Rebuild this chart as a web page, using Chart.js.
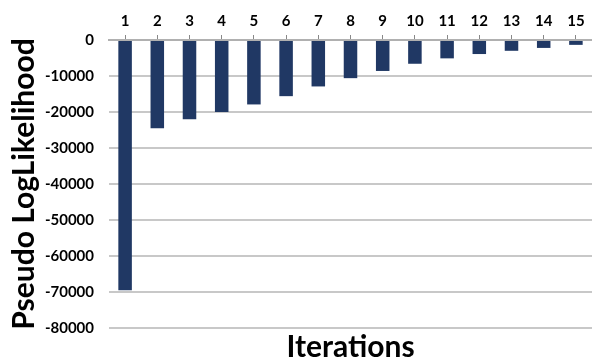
<!DOCTYPE html>
<html>
<head>
<meta charset="utf-8">
<script src="https://cdn.jsdelivr.net/npm/chart.js@4.4.0/dist/chart.umd.min.js"></script>
<style>
  html, body { margin: 0; padding: 0; background: #fff; }
  #wrap { width: 592px; height: 362px; }
</style>
</head>
<body>
<div id="wrap"><canvas id="myChart" width="592" height="362"></canvas></div>
<script>
// iterations and pseudo log-likelihood
const iterations = ["1", "2", "3", "4", "5", "6", "7", "8", "9", "10", "11", "12", "13", "14", "15"];
const logLik = [-69500, -24500, -22000, -20000, -17900, -15600, -12900, -10600, -8600, -6600, -5100, -3900, -3000, -2200, -1350];
const yTicks = [0, -10000, -20000, -30000, -40000, -50000, -60000, -70000, -80000];

const ctx = document.getElementById('myChart').getContext('2d');
new Chart(ctx, {
    type: 'bar',
    data: {
        labels: iterations,
        datasets: [{
            data: logLik,
            backgroundColor: '#203864',
            borderWidth: 0,
            barPercentage: 0.42,
            categoryPercentage: 1
        }]
    },
    options: {
        responsive: false,
        animation: false,
        layout: { padding: { left: 9, right: 0, top: 7, bottom: 0 } },
        plugins: {
            legend: { display: false },
            tooltip: { enabled: false },
            title: {
                display: true,
                position: 'bottom',
                fullSize: false,
                text: 'Iterations',
                color: '#000',
                font: { family: 'Lato', size: 30, weight: 'bold', lineHeight: 1 },
                padding: { top: 4, bottom: 0 }
            }
        },
        scales: {
            x: {
                position: 'top',
                grid: {
                    offset: false,
                    drawOnChartArea: false,
                    color: '#888',
                    tickLength: 5
                },
                border: { color: '#b0b0b0', width: 2 },
                ticks: {
                    color: '#000',
                    font: { family: 'Lato', size: 15, weight: 'bold' },
                    padding: 5,
                    maxRotation: 0
                }
            },
            y: {
                min: -80000,
                max: 0,
                afterBuildTicks: (axis) => {
                    axis.ticks = yTicks.map(v => ({ value: v }));
                },
                // keep the plot starting where the original one does
                afterFit: (axis) => { axis.width = 100; },
                grid: { color: '#c8c8c8', lineWidth: 2, drawTicks: false },
                border: { display: false },
                ticks: {
                    color: '#000',
                    font: { family: 'Lato', size: 15, weight: 'bold' },
                    padding: 15,
                    callback: (v) => String(v)
                },
                title: {
                    display: true,
                    text: 'Pseudo LogLikelihood',
                    color: '#000',
                    font: { family: 'Lato', size: 30, weight: 'bold', lineHeight: 1 },
                    padding: { top: 0, bottom: 9 }
                }
            }
        }
    }
});
</script>
</body>
</html>
